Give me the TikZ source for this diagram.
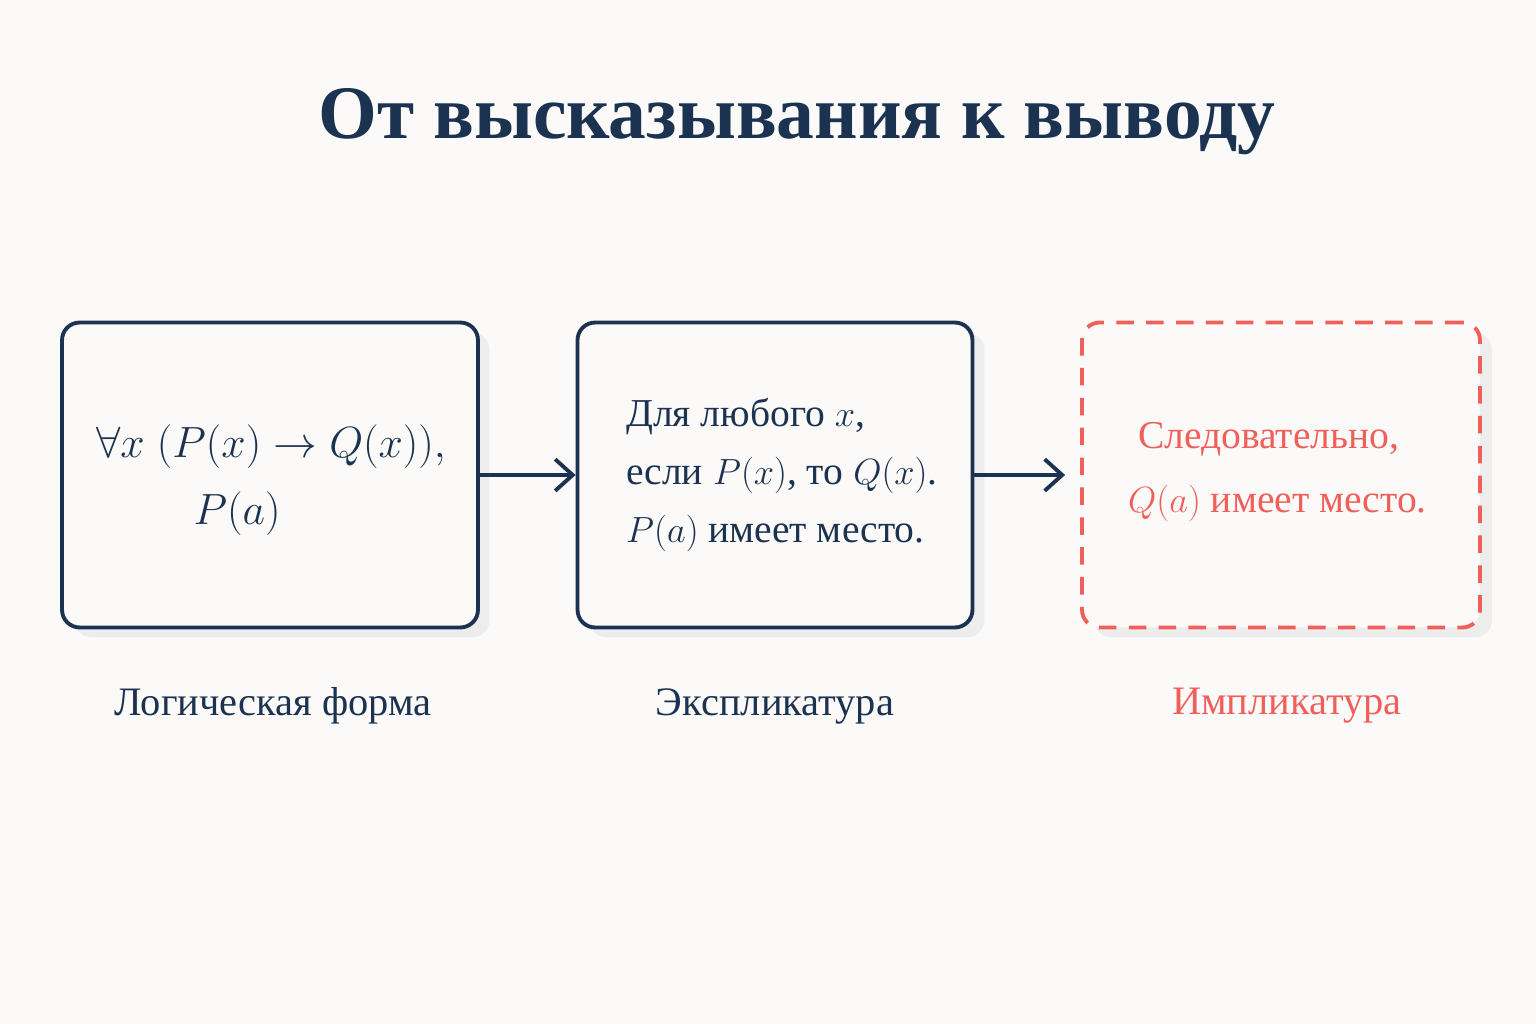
\documentclass[tikz,border=0pt]{standalone}
\usepackage{fontspec}
\setmainfont{Liberation Serif}
\usetikzlibrary{arrows.meta}
\definecolor{navy}{HTML}{1B3350}
\definecolor{red}{HTML}{F0605A}
\definecolor{bg}{HTML}{FBFAF8}
\begin{document}
\begin{tikzpicture}[x=0.02cm,y=-0.02cm,
 box/.style={draw=navy,line width=2.2pt,rounded corners=10pt,minimum width=8.2cm,minimum height=6.1cm,fill=bg},
 shadowed/.style={fill=black!7,draw=none,rounded corners=10pt,minimum width=8.2cm,minimum height=6.1cm},
 txt/.style={font=\fontsize{22.5}{33}\selectfont,align=left},
 arr/.style={-{Straight Barb[length=10pt,width=18pt]},draw=navy,line width=2.2pt},
 lab/.style={font=\fontsize{23}{26}\selectfont}]
\fill[bg] (0,0) rectangle (1536,1024);
\useasboundingbox (0,0) rectangle (1536,1024);
\node[font=\fontsize{43}{50}\selectfont\bfseries,text=navy] (title) at (797,122) {От высказывания к выводу};
\node[shadowed,minimum width=8.3cm] at (282,485) {};
\node[shadowed,minimum width=7.9cm] at (787,485) {};
\node[shadowed,minimum width=7.96cm] at (1293,485) {};
\node[box,minimum width=8.32cm] (b1) at (270,475) {};
\node[box,minimum width=7.9cm] (b2) at (775,475) {};
\node[box,draw=red,dashed,dash pattern=on 10pt off 7pt,minimum width=7.96cm] (b3) at (1281,475) {};
\node[txt,text=navy,anchor=west,font=\fontsize{25}{38}\selectfont] (t1) at (90,480) {$\forall x\;(P(x)\rightarrow Q(x)),$\\\hspace{1.95cm}$P(a)$};
\node[txt,text=navy,anchor=west] (t2) at (620,475) {Для любого $x$,\\если $P(x)$, то $Q(x)$.\\$P(a)$ имеет место.};
\node[txt,text=red,anchor=west,font=\fontsize{22.5}{36}\selectfont] (t3) at (1122,472) {\hspace{0.2cm}Следовательно,\\$Q(a)$ имеет место.};
\draw[arr] (b1.east) -- (b2.west);
\draw[arr] (b2.east) -- ([xshift=-0.3cm]b3.west);
\node[lab,text=navy] (l1) at (273,706) {Логическая форма};
\node[lab,text=navy] (l2) at (775,706) {Экспликатура};
\node[lab,text=red] (l3) at (1287,706) {Импликатура};
\end{tikzpicture}
\end{document}
